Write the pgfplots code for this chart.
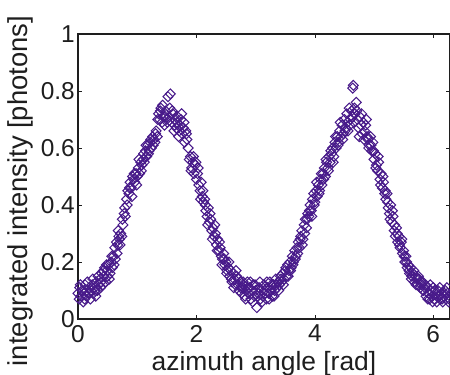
\documentclass[border=0pt]{standalone}
\usepackage{fontspec}
\setmainfont{Liberation Sans}
\usepackage{pgfplots}
\pgfplotsset{compat=1.18}
\definecolor{mk}{RGB}{72,26,138}
\definecolor{ax}{RGB}{30,30,30}
\begin{document}
\begin{tikzpicture}
\path[use as bounding box] (-78bp,-56bp) rectangle (372bp,319bp);
\begin{axis}[
  at={(0,0)}, anchor=south west,
  scale only axis, width=372bp, height=285bp,
  xmin=0, xmax=6.2832, ymin=0, ymax=1,
  xtick={0,2,4,6}, ytick={0,0.2,0.4,0.6,0.8,1},
  yticklabels={0,0.2,0.4,0.6,0.8,1},
  tick align=inside, major tick length=4bp,
  axis line style={ax, line width=1.1bp},
  every tick/.style={ax, line width=0.6bp},
  /pgf/number format/assume math mode=true,
  ticklabel style={font=\fontsize{24.5}{28}\selectfont, text=ax, inner sep=0pt},
  yticklabel style={anchor=east, xshift=-3bp},
  xticklabel style={anchor=north, yshift=-6bp},
  xlabel={azimuth angle [rad]},
  ylabel={integrated intensity [photons]},
  xlabel style={font=\fontsize{26.5}{30}\selectfont, text=ax, at={(rel axis cs:0.5,0)}, anchor=base, yshift=-51bp, inner sep=0pt},
  ylabel style={font=\fontsize{27.5}{31}\selectfont, text=ax, at={(rel axis cs:0,0.5)}, anchor=base, xshift=-14.5bp, yshift=50bp, inner sep=0pt},
  clip=false,
  mkstyle/.style={only marks, mark=square, mark size=3.5bp, mark options={rotate=45, draw=mk, line width=1.05bp, fill=none}},
]
\addplot[mkstyle] table {
x y
0.00 0.09
0.02 0.07
0.03 0.11
0.05 0.08
0.07 0.10
0.09 0.06
0.10 0.09
0.12 0.12
0.14 0.08
0.15 0.10
0.17 0.09
0.19 0.11
0.21 0.07
0.22 0.10
0.24 0.12
0.26 0.09
0.28 0.11
0.30 0.08
0.31 0.13
0.33 0.10
0.35 0.12
0.37 0.14
0.38 0.11
0.40 0.16
0.42 0.12
0.44 0.15
0.45 0.18
0.47 0.13
0.49 0.17
0.50 0.15
0.52 0.19
0.54 0.16
0.56 0.20
0.58 0.18
0.60 0.22
0.62 0.25
0.63 0.21
0.65 0.27
0.67 0.26
0.69 0.29
0.70 0.28
0.72 0.30
0.74 0.29
0.76 0.33
0.78 0.37
0.80 0.36
0.82 0.42
0.84 0.45
0.86 0.44
0.88 0.48
0.90 0.46
0.92 0.50
0.94 0.49
0.96 0.48
0.98 0.51
1.00 0.50
1.02 0.53
1.04 0.51
1.06 0.55
1.08 0.54
1.10 0.56
1.12 0.55
1.14 0.59
1.16 0.57
1.18 0.61
1.20 0.59
1.22 0.62
1.24 0.60
1.26 0.64
1.28 0.63
1.30 0.62
1.32 0.66
1.34 0.64
1.36 0.72
1.38 0.70
1.40 0.74
1.42 0.69
1.44 0.71
1.46 0.68
1.48 0.73
1.50 0.70
1.52 0.78
1.54 0.71
1.56 0.79
1.58 0.69
1.60 0.72
1.62 0.66
1.64 0.70
1.66 0.67
1.68 0.71
1.70 0.64
1.72 0.68
1.74 0.70
1.76 0.65
1.78 0.67
1.80 0.62
1.82 0.66
1.84 0.63
1.86 0.60
1.88 0.56
1.90 0.57
1.92 0.53
1.94 0.55
1.96 0.51
1.98 0.54
2.00 0.49
2.02 0.51
2.04 0.47
2.06 0.45
2.08 0.48
2.10 0.43
2.12 0.41
2.14 0.42
2.16 0.38
2.18 0.36
2.20 0.39
2.22 0.34
2.24 0.35
2.26 0.31
2.28 0.32
2.30 0.29
2.32 0.30
2.34 0.26
2.36 0.28
2.38 0.24
2.40 0.25
2.42 0.22
2.44 0.21
2.46 0.23
2.48 0.19
2.50 0.20
2.52 0.17
2.54 0.18
2.56 0.15
2.58 0.17
2.60 0.13
2.62 0.16
2.64 0.14
2.66 0.12
2.68 0.15
2.70 0.12
2.72 0.10
2.74 0.13
2.76 0.09
2.78 0.11
2.80 0.12
2.82 0.08
2.84 0.10
2.86 0.13
2.88 0.09
2.90 0.11
2.92 0.07
2.94 0.10
2.96 0.12
2.98 0.08
3.00 0.10
3.02 0.04
3.04 0.09
3.06 0.11
3.08 0.07
3.10 0.10
3.12 0.08
3.14 0.12
3.16 0.09
3.18 0.07
3.20 0.11
3.22 0.09
3.24 0.13
3.26 0.10
3.28 0.08
3.30 0.12
3.32 0.10
3.34 0.14
3.36 0.11
3.38 0.13
3.40 0.12
3.42 0.15
3.44 0.13
3.46 0.16
3.48 0.14
3.50 0.17
3.52 0.15
3.54 0.19
3.56 0.17
3.58 0.20
3.60 0.18
3.62 0.22
3.64 0.20
3.66 0.24
3.68 0.22
3.70 0.25
3.72 0.27
3.74 0.25
3.76 0.29
3.78 0.31
3.80 0.28
3.82 0.33
3.84 0.35
3.86 0.32
3.88 0.37
3.90 0.36
3.92 0.40
3.94 0.38
3.96 0.42
3.98 0.44
4.00 0.41
4.02 0.45
4.04 0.43
4.06 0.47
4.08 0.45
4.10 0.49
4.12 0.47
4.14 0.51
4.16 0.53
4.18 0.50
4.20 0.55
4.22 0.53
4.24 0.57
4.26 0.55
4.28 0.58
4.30 0.60
4.32 0.57
4.34 0.62
4.36 0.60
4.38 0.64
4.40 0.62
4.42 0.66
4.44 0.64
4.46 0.68
4.48 0.65
4.50 0.70
4.52 0.67
4.54 0.72
4.56 0.66
4.58 0.74
4.60 0.70
4.62 0.73
4.64 0.81
4.65 0.82
4.66 0.69
4.68 0.72
4.70 0.76
4.72 0.70
4.74 0.67
4.76 0.71
4.78 0.68
4.80 0.65
4.82 0.69
4.84 0.66
4.86 0.68
4.88 0.64
4.90 0.63
4.92 0.61
4.94 0.64
4.96 0.59
4.98 0.62
5.00 0.56
5.02 0.58
5.04 0.54
5.06 0.52
5.08 0.55
5.10 0.49
5.12 0.51
5.14 0.46
5.16 0.48
5.18 0.44
5.20 0.42
5.22 0.44
5.24 0.39
5.26 0.37
5.28 0.40
5.30 0.34
5.32 0.36
5.34 0.31
5.36 0.29
5.38 0.32
5.40 0.27
5.42 0.29
5.44 0.25
5.46 0.27
5.48 0.23
5.50 0.24
5.52 0.20
5.54 0.22
5.56 0.18
5.58 0.19
5.60 0.16
5.62 0.18
5.64 0.15
5.66 0.16
5.68 0.13
5.70 0.15
5.72 0.14
5.74 0.12
5.76 0.14
5.78 0.11
5.80 0.12
5.82 0.13
5.84 0.10
5.86 0.11
5.88 0.08
5.90 0.11
5.92 0.09
5.94 0.07
5.96 0.10
5.98 0.08
6.00 0.11
6.02 0.07
6.04 0.09
6.06 0.06
6.08 0.10
6.10 0.08
6.12 0.07
6.14 0.09
6.16 0.06
6.18 0.08
6.20 0.10
6.22 0.07
6.24 0.09
6.26 0.06
6.28 0.08
};
\addplot[mkstyle] table {
x y
0.04 0.12
0.08 0.10
0.11 0.07
0.16 0.13
0.20 0.09
0.25 0.14
0.29 0.10
0.34 0.15
0.39 0.13
0.43 0.17
0.48 0.19
0.53 0.14
0.57 0.22
0.61 0.19
0.66 0.23
0.68 0.31
0.71 0.26
0.75 0.35
0.79 0.39
0.83 0.40
0.87 0.46
0.91 0.43
0.95 0.51
0.99 0.47
1.03 0.56
1.07 0.52
1.11 0.58
1.15 0.61
1.19 0.58
1.23 0.63
1.27 0.61
1.31 0.65
1.35 0.70
1.39 0.73
1.43 0.75
1.47 0.71
1.51 0.69
1.55 0.74
1.59 0.73
1.63 0.68
1.67 0.69
1.71 0.66
1.75 0.72
1.79 0.69
1.83 0.65
1.91 0.52
1.95 0.57
1.99 0.55
2.03 0.53
2.07 0.42
2.11 0.45
2.15 0.40
2.19 0.33
2.23 0.37
2.27 0.28
2.31 0.33
2.35 0.24
2.39 0.27
2.43 0.19
2.47 0.21
2.51 0.16
2.55 0.20
2.59 0.14
2.63 0.11
2.67 0.17
2.71 0.14
2.75 0.11
2.79 0.13
2.83 0.07
2.87 0.11
2.91 0.13
2.95 0.06
2.99 0.12
3.03 0.08
3.07 0.13
3.11 0.06
3.15 0.10
3.19 0.13
3.23 0.07
3.27 0.12
3.31 0.08
3.35 0.12
3.39 0.10
3.43 0.14
3.47 0.12
3.51 0.18
3.55 0.15
3.59 0.17
3.63 0.19
3.67 0.21
3.71 0.23
3.75 0.28
3.79 0.26
3.83 0.30
3.87 0.35
3.91 0.38
3.95 0.36
3.99 0.40
4.03 0.48
4.07 0.44
4.11 0.51
4.15 0.49
4.19 0.56
4.23 0.52
4.27 0.59
4.31 0.55
4.35 0.64
4.39 0.61
4.43 0.69
4.47 0.63
4.51 0.66
4.55 0.69
4.59 0.68
4.63 0.71
4.67 0.74
4.71 0.73
4.75 0.64
4.79 0.72
4.83 0.63
4.87 0.70
4.91 0.60
4.95 0.61
4.99 0.59
5.03 0.53
5.07 0.57
5.11 0.47
5.15 0.50
5.19 0.45
5.23 0.41
5.27 0.35
5.31 0.38
5.35 0.33
5.39 0.30
5.43 0.26
5.47 0.28
5.51 0.22
5.55 0.20
5.59 0.17
5.63 0.14
5.67 0.17
5.71 0.12
5.75 0.15
5.79 0.13
5.83 0.10
5.87 0.12
5.91 0.07
5.95 0.12
5.99 0.06
6.03 0.10
6.07 0.08
6.11 0.11
6.15 0.07
6.19 0.09
6.23 0.11
6.27 0.07
};
\end{axis}
\end{tikzpicture}
\end{document}
